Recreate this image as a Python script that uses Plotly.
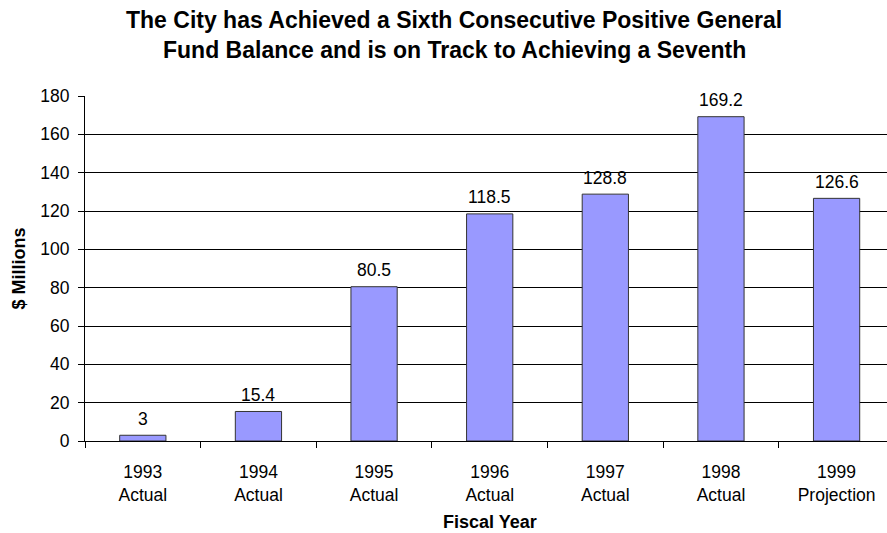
import plotly.graph_objects as go

years = ["1993", "1994", "1995", "1996", "1997", "1998", "1999"]
kinds = ["Actual", "Actual", "Actual", "Actual", "Actual", "Actual", "Projection"]
values = [3, 15.4, 80.5, 118.5, 128.8, 169.2, 126.6]
value_labels = ["3", "15.4", "80.5", "118.5", "128.8", "169.2", "126.6"]
y_ticks = [0, 20, 40, 60, 80, 100, 120, 140, 160, 180]
title_lines = [
    "The City has Achieved a Sixth Consecutive Positive General",
    "Fund Balance and is on Track to Achieving a Seventh",
]

categories = [f"{y}<br>{k}" for y, k in zip(years, kinds)]

FONT = "Liberation Sans, Arial, sans-serif"
W, H = 887, 533
PLOT_LEFT = 84.5
PLOT_TOP, PLOT_BOTTOM = 95.7, 441.3


def py(px):
    """pixel row -> paper y"""
    return (PLOT_BOTTOM - px) / (PLOT_BOTTOM - PLOT_TOP)


def pxx(px):
    """pixel column -> paper x"""
    return (px - PLOT_LEFT) / (W - PLOT_LEFT)


fig = go.Figure(
    go.Bar(
        x=categories,
        y=values,
        marker=dict(color="#9999FF", line=dict(color="#333333", width=1)),
        hoverinfo="skip",
    )
)

annotations = []
for c, v, lab in zip(categories, values, value_labels):
    annotations.append(dict(
        text=lab, x=c, y=v, xref="x", yref="y", yanchor="middle",
        yshift=16.5, showarrow=False,
        font=dict(family=FONT, size=17.5, color="black"),
    ))
for line, px in zip(title_lines, [20.0, 50.0]):
    annotations.append(dict(
        text=f"<b>{line}</b>", x=pxx(454), xref="paper", xanchor="center",
        y=py(px), yref="paper", yanchor="middle", showarrow=False,
        font=dict(family=FONT, size=23, color="black"),
    ))
annotations.append(dict(
    text="<b>Fiscal Year</b>", x=3, xref="x", y=py(522.5), yref="paper",
    yanchor="middle", showarrow=False,
    font=dict(family=FONT, size=18, color="black"),
))

fig.update_layout(
    width=W,
    height=H,
    margin=dict(l=PLOT_LEFT, r=0, t=PLOT_TOP, b=H - PLOT_BOTTOM),
    paper_bgcolor="white",
    plot_bgcolor="white",
    bargap=0.6,
    showlegend=False,
    font=dict(family=FONT, color="black"),
    xaxis=dict(
        range=[-0.5, 6.436],
        tickson="boundaries",
        ticks="outside",
        ticklen=6,
        tickcolor="black",
        showline=True,
        linecolor="black",
        linewidth=1,
        showgrid=False,
        ticklabelstandoff=15,
        tickfont=dict(family=FONT, size=17.5, color="black"),
    ),
    yaxis=dict(
        range=[0, 180],
        tickvals=y_ticks,
        ticks="outside",
        ticklen=6,
        tickcolor="black",
        showline=True,
        linecolor="black",
        linewidth=1,
        showgrid=True,
        gridcolor="black",
        gridwidth=1,
        zeroline=False,
        ticklabelstandoff=5,
        tickfont=dict(family=FONT, size=17.5, color="black"),
        title=dict(text="<b>$ Millions</b>", font=dict(family=FONT, size=18, color="black"), standoff=9),
    ),
    annotations=annotations,
)

fig.write_html(
    "out.html",
    config={"displayModeBar": False},
    post_script="document.body.style.margin='0';",
)
